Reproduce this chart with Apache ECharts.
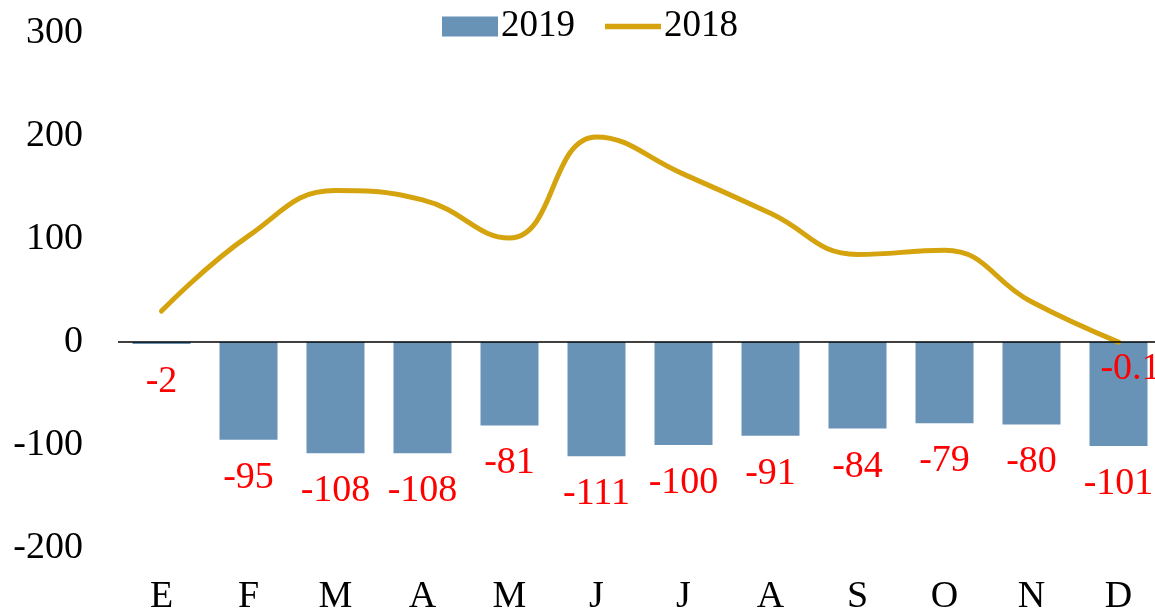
<!DOCTYPE html>
<html>
<head>
<meta charset="utf-8">
<script src="https://cdn.jsdelivr.net/npm/echarts@6/dist/echarts.min.js"></script>
<style>
html, body { margin: 0; padding: 0; background: #fff; }
#chart { width: 1155px; height: 616px; }
</style>
</head>
<body>
<div id="chart"></div>
<script>
var months = ['E', 'F', 'M', 'A', 'M', 'J', 'J', 'A', 'S', 'O', 'N', 'D'];
var values2019 = [-2, -95, -108, -108, -81, -111, -100, -91, -84, -79, -80, -101];
var values2018 = [30, 103, 147, 138, 101, 199, 163, 125, 85, 89, 39, -0.1];

var font = 'Liberation Serif';

var chart = echarts.init(document.getElementById('chart'));

// only the last point of the 2018 line carries a label
var lineData = values2018.map(function (v, i) {
    if (i === values2018.length - 1) {
        return {
            value: v,
            label: {
                show: true,
                position: 'bottom',
                distance: 8,
                offset: [12, 0],
                color: '#ff0000',
                fontFamily: font,
                fontSize: 38
            }
        };
    }
    return v;
});

chart.setOption({
    animation: false,
    textStyle: { fontFamily: font },
    legend: {
        top: 3,
        left: 437,
        itemGap: 30,
        itemWidth: 56,
        itemHeight: 20,
        textStyle: { fontFamily: font, fontSize: 37, color: '#000', padding: [0, 0, 0, -2] },
        data: [
            { name: '2019', icon: 'rect' },
            { name: '2018', icon: 'path://M0,0 L10,0 L10,1 L0,1 Z' }
        ]
    },
    grid: {
        left: 118,
        width: 1044,
        top: 33,
        bottom: 68,
        outerBoundsMode: 'none'
    },
    xAxis: {
        type: 'category',
        data: months,
        axisLine: { show: false, onZero: false },
        axisTick: { show: false },
        axisLabel: { color: '#000', fontFamily: font, fontSize: 38, margin: 30 }
    },
    yAxis: {
        type: 'value',
        min: -200,
        max: 300,
        interval: 100,
        splitLine: { show: false },
        axisLine: { show: false },
        axisTick: { show: false },
        axisLabel: { color: '#000', fontFamily: font, fontSize: 38, margin: 35 }
    },
    series: [
        {
            name: '2019',
            type: 'bar',
            data: values2019,
            barWidth: 58,
            itemStyle: { color: '#6893b7' },
            label: {
                show: true,
                position: 'bottom',
                distance: 19,
                color: '#ff0000',
                fontFamily: font,
                fontSize: 38
            },
            markLine: {
                silent: true,
                symbol: 'none',
                label: { show: false },
                lineStyle: { color: '#000', width: 1.6, type: 'solid' },
                data: [{ yAxis: 0 }]
            },
            z: 2
        },
        {
            name: '2018',
            type: 'line',
            data: lineData,
            smooth: 0.45,
            symbol: 'circle',
            symbolSize: 0.1,
            showSymbol: true,
            lineStyle: { color: '#d5a30e', width: 5, cap: 'round' },
            itemStyle: { color: '#d5a30e' },
            z: 3
        }
    ]
});
</script>
</body>
</html>
